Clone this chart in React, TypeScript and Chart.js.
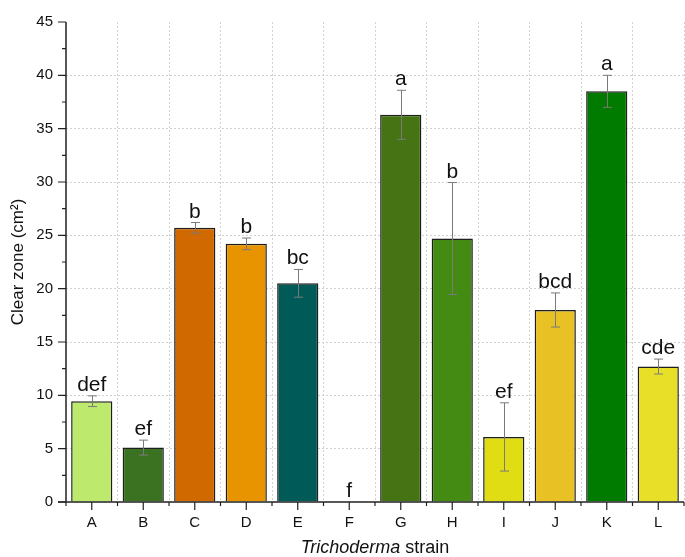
import React, { useEffect, useRef } from "react";
import { Chart, registerables } from "chart.js";

Chart.register(...registerables);

const categories = ["A", "B", "C", "D", "E", "F", "G", "H", "I", "J", "K", "L"];
const means = [9.45, 5.1, 25.7, 24.2, 20.5, 0, 36.3, 24.7, 6.1, 18.0, 38.5, 12.7];
const errors = [0.5, 0.7, 0.5, 0.55, 1.3, 0, 2.3, 5.25, 3.2, 1.6, 1.5, 0.7];
const letters = ["def", "ef", "b", "b", "bc", "f", "a", "b", "ef", "bcd", "a", "cde"];
const barColors = [
  "#bdea6c", "#3b7222", "#cf6900", "#e89400", "#005a58", "#cccccc",
  "#467415", "#448b14", "#e0dd14", "#e8c124", "#007b00", "#e8e028",
];
const yTicks = [0, 5, 10, 15, 20, 25, 30, 35, 40, 45];

const FONT = "'Liberation Sans', Arial, sans-serif";

const overlayPlugin = {
  id: "overlay",
  afterDatasetsDraw(chart: any) {
    const ctx = chart.ctx;
    const xs = chart.scales.x;
    const ys = chart.scales.y;
    const area = chart.chartArea;
    ctx.save();
    // error bars
    ctx.strokeStyle = "#7a7a7a";
    ctx.lineWidth = 1;
    means.forEach((m, i) => {
      const e = errors[i];
      if (!e) return;
      const x = Math.round(xs.getPixelForValue(i)) + 0.5;
      const yt = ys.getPixelForValue(m + e);
      const yb = ys.getPixelForValue(m - e);
      ctx.beginPath();
      ctx.moveTo(x, yt);
      ctx.lineTo(x, yb);
      ctx.moveTo(x - 4.5, yt);
      ctx.lineTo(x + 4.5, yt);
      ctx.moveTo(x - 4.5, yb);
      ctx.lineTo(x + 4.5, yb);
      ctx.stroke();
    });
    // letters
    ctx.fillStyle = "#111";
    ctx.font = `21px ${FONT}`;
    ctx.textAlign = "center";
    ctx.textBaseline = "alphabetic";
    means.forEach((m, i) => {
      const x = xs.getPixelForValue(i);
      const y = ys.getPixelForValue(m + errors[i]) - 5;
      ctx.fillText(letters[i], x, y);
    });
    // axes
    ctx.strokeStyle = "#222";
    ctx.lineWidth = 1.5;
    ctx.beginPath();
    ctx.moveTo(area.left, area.top);
    ctx.lineTo(area.left, area.bottom);
    ctx.moveTo(area.left - 8, area.bottom);
    ctx.lineTo(area.right, area.bottom);
    ctx.stroke();
    ctx.lineWidth = 1.2;
    ctx.beginPath();
    for (let v = 0; v <= 45; v += 2.5) {
      const y = ys.getPixelForValue(v);
      const len = v % 5 === 0 ? 8 : 4;
      ctx.moveTo(area.left - len, y);
      ctx.lineTo(area.left, y);
    }
    const step = (area.right - area.left) / categories.length;
    for (let k = 0; k <= categories.length; k++) {
      const xb = area.left + k * step;
      ctx.moveTo(xb, area.bottom);
      ctx.lineTo(xb, area.bottom + 4);
    }
    categories.forEach((_, i) => {
      const x = xs.getPixelForValue(i);
      ctx.moveTo(x, area.bottom);
      ctx.lineTo(x, area.bottom + 8);
    });
    ctx.stroke();
    // x title
    const cx = (area.left + area.right) / 2;
    ctx.font = `italic 18px ${FONT}`;
    const t1 = "Trichoderma";
    const w1 = ctx.measureText(t1).width;
    ctx.font = `18px ${FONT}`;
    const t2 = " strain";
    const w2 = ctx.measureText(t2).width;
    const start = cx - (w1 + w2) / 2;
    ctx.textAlign = "left";
    ctx.textBaseline = "middle";
    ctx.fillStyle = "#111";
    ctx.font = `italic 18px ${FONT}`;
    ctx.fillText(t1, start, 548);
    ctx.font = `18px ${FONT}`;
    ctx.fillText(t2, start + w1, 548);
    // y title
    ctx.save();
    ctx.translate(18, 262);
    ctx.rotate(-Math.PI / 2);
    ctx.textAlign = "center";
    ctx.textBaseline = "middle";
    ctx.font = `17px ${FONT}`;
    ctx.fillText("Clear zone (cm²)", 0, 0);
    ctx.restore();
    ctx.restore();
  },
};

export default function App() {
  const ref = useRef<HTMLCanvasElement | null>(null);
  useEffect(() => {
    if (!ref.current) return;
    const chart = new Chart(ref.current, {
      type: "bar",
      data: {
        labels: categories,
        datasets: [
          {
            data: means,
            backgroundColor: barColors,
            borderColor: "#1e1e1e",
            borderWidth: 1.5,
            barPercentage: 0.8,
            categoryPercentage: 1,
          },
        ],
      },
      options: {
        animation: false,
        responsive: false,
        maintainAspectRatio: false,
        layout: { padding: { top: 6, right: 1, left: 0, bottom: 0 } },
        plugins: {
          legend: { display: false },
          tooltip: { enabled: false },
        },
        scales: {
          x: {
            offset: true,
            grid: {
              offset: true,
              drawTicks: false,
              color: (c: any) => (c.index === 0 ? "rgba(0,0,0,0)" : "#d2d2d2"),
              lineWidth: 1,
            },
            border: { display: false, dash: [2, 2] },
            ticks: {
              padding: 12,
              color: "#111",
              font: { family: FONT, size: 15 },
            },
            afterFit: (s: any) => {
              s.height = 55;
            },
          },
          y: {
            min: 0,
            max: 45,
            afterBuildTicks: (s: any) => {
              s.ticks = yTicks.map((v) => ({ value: v }));
            },
            grid: {
              drawTicks: false,
              color: (c: any) =>
                c.tick && (c.tick.value === 0 || c.tick.value === 45) ? "rgba(0,0,0,0)" : "#d2d2d2",
              lineWidth: 1,
            },
            border: { display: false, dash: [2, 2] },
            ticks: {
              padding: 13,
              color: "#111",
              font: { family: FONT, size: 15 },
            },
            afterFit: (s: any) => {
              s.width = 66;
            },
          },
        },
      },
      plugins: [overlayPlugin],
    });
    return () => chart.destroy();
  }, []);
  return (
    <div style={{ position: "absolute", left: 0, top: 0, width: 685, height: 557, background: "#fff" }}>
      <canvas ref={ref} width={685} height={557} />
    </div>
  );
}
